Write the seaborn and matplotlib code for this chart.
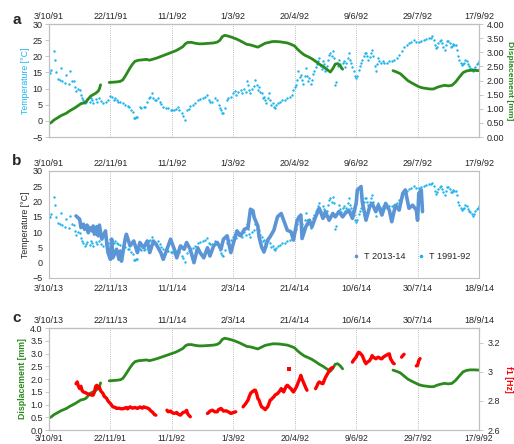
import numpy as np
import pandas as pd
import matplotlib
matplotlib.use("Agg")
import matplotlib.pyplot as plt
import seaborn as sns
from matplotlib.lines import Line2D

sns.set_style("white")
plt.rcParams['font.family'] = ['Liberation Sans', 'DejaVu Sans']

# ---------------- axis ticks (days since 3 October) ----------------
tick_days = [0, 50, 100, 150, 200, 250, 300, 350]
labels_9192 = ["3/10/91", "22/11/91", "11/1/92", "1/3/92", "20/4/92", "9/6/92", "29/7/92", "17/9/92"]
labels_1314 = ["3/10/13", "22/11/13", "11/1/14", "2/3/14", "21/4/14", "10/6/14", "30/7/14", "18/9/14"]

# ---------------- displacement 1991-92 [mm] ----------------
disp_day = [0, 2, 4, 7, 10, 14, 17, 21, 24, 26, 28, 30, 32, 34, 36, 38, 40, 41, 42,
            49, 52, 55, 58, 60, 62, 64, 66, 68, 70, 73, 76, 79, 82, 85, 88, 91, 94, 97,
            100, 103, 106, 109, 111, 113, 116, 119, 122, 125, 128, 131, 134, 137, 139,
            141, 143, 146, 149, 152, 155, 158, 161, 164, 167, 170, 173, 176, 179, 182,
            185, 188, 191, 194, 197, 200, 202, 205, 208, 211, 214, 217, 220, 223, 226,
            229, 231, 233, 235, 237, 239,
            280, 283, 286, 289, 292, 295, 298, 301, 304, 307, 310, 313, 316, 319, 322,
            325, 328, 331, 334, 337, 340, 343, 346, 350]
disp_mm = [0.47, 0.52, 0.60, 0.68, 0.76, 0.84, 0.93, 1.03, 1.12, 1.18, 1.20, 1.24, 1.35,
           1.45, 1.50, 1.55, 1.62, 1.70, 1.85,
           1.93, 1.94, 1.95, 1.97, 2.02, 2.15, 2.30, 2.45, 2.58, 2.68, 2.72, 2.73, 2.75,
           2.72, 2.76, 2.80, 2.85, 2.90, 2.95, 3.00, 3.05, 3.12, 3.20, 3.30, 3.35, 3.35,
           3.32, 3.30, 3.30, 3.31, 3.32, 3.33, 3.36, 3.42, 3.55, 3.60, 3.57, 3.53, 3.48,
           3.42, 3.35, 3.28, 3.26, 3.22, 3.18, 3.25, 3.32, 3.35, 3.38, 3.38, 3.37, 3.35,
           3.33, 3.28, 3.22, 3.12, 3.00, 2.90, 2.84, 2.77, 2.68, 2.58, 2.50, 2.40, 2.30,
           2.42, 2.58, 2.60, 2.52, 2.40,
           2.35, 2.30, 2.24, 2.12, 2.00, 1.92, 1.85, 1.78, 1.74, 1.72, 1.70, 1.70, 1.76,
           1.80, 1.83, 1.81, 1.83, 1.95, 2.12, 2.28, 2.34, 2.36, 2.36, 2.35]

# ---------------- temperature 1991-92 [°C] ----------------
t91_day = [0, 1, 2, 4, 5, 6, 7, 9, 10, 11, 13, 14, 16, 17, 19, 20, 21, 22, 24, 25, 26, 27,
           28, 29, 30, 31, 33, 34, 35, 36, 38, 39, 41, 42, 44, 46, 48, 50, 51, 53, 54, 55,
           56, 58, 60, 62, 64, 65, 67, 68, 69, 70, 71, 72, 74, 75, 77, 78, 80, 81, 82, 84,
           85, 86, 87, 89, 90, 91, 93, 95, 97, 99, 100, 102, 103, 105, 106, 108, 109, 111,
           112, 114, 115, 117, 119, 121, 123, 125, 127, 129, 130, 131, 133, 135, 137, 138,
           139, 140, 141, 142, 143, 145, 146, 148, 150, 151, 152, 154, 156, 157, 159, 160,
           161, 162, 163, 164, 165, 167, 168, 169, 170, 171, 172, 173, 174, 175, 176, 177,
           178, 179, 180, 181, 182, 183, 184, 185, 186, 188, 190, 192, 194, 196, 198, 199,
           200, 201, 202, 203, 204, 205, 206, 207, 208, 209, 210, 211, 212, 213, 214, 215,
           216, 217, 218, 219, 220, 221, 222, 223, 224, 225, 226, 227, 228, 229, 230, 231,
           232, 233, 234, 235, 236, 237, 238, 239, 240, 241, 242, 243, 244, 245, 246, 247,
           248, 249, 250, 251, 252, 253, 254, 255, 256, 257, 258, 259, 260, 261, 262, 263,
           264, 265, 266, 267, 268, 269, 270, 272, 273, 275, 277, 279, 281, 283, 285, 287,
           289, 291, 293, 295, 297, 299, 301, 303, 305, 307, 309, 311, 312, 313, 314, 315,
           316, 317, 318, 319, 320, 321, 322, 323, 324, 325, 326, 327, 328, 329, 330, 331,
           332, 333, 334, 335, 336, 337, 338, 339, 340, 341, 342, 343, 344, 345, 346, 347,
           348, 349, 350]
t91_val = [15.4, 14.8, 15.9, 21.6, 19.0, 15.0, 13.0, 12.7, 16.4, 12.2, 11.7, 14.3, 11.5,
           15.4, 12.5, 12.2, 10.5, 9.1, 10.0, 9.6, 8.0, 7.0, 6.5, 5.5, 6.0, 6.7, 5.8, 7.0,
           6.5, 5.5, 6.8, 6.0, 7.0, 6.2, 5.5, 6.0, 6.5, 7.8, 7.5, 6.5, 7.0, 6.5, 6.0, 5.8,
           5.4, 5.0, 4.6, 4.4, 3.5, 2.8, 1.0, 0.8, 1.1, 1.2, 4.4, 4.0, 4.2, 4.4, 6.0, 7.0,
           7.5, 8.5, 7.2, 6.5, 6.5, 7.0, 6.0, 5.2, 4.4, 4.0, 3.9, 3.5, 3.4, 3.3, 3.8, 4.2,
           3.5, 2.3, 1.5, 0.2, 3.3, 3.8, 4.5, 4.9, 5.5, 6.5, 6.8, 7.0, 7.5, 8.0, 6.5, 6.0,
           6.0, 7.0, 6.5, 5.0, 4.0, 3.3, 2.5, 2.3, 4.0, 6.5, 7.0, 7.5, 8.5, 9.1, 8.0, 9.0,
           9.6, 8.5, 10.0, 9.0, 12.5, 11.0, 9.5, 8.5, 10.0, 10.7, 12.7, 11.0, 9.6, 10.6,
           9.0, 8.5, 7.0, 7.5, 6.4, 5.5, 7.0, 8.5, 6.5, 5.0, 5.4, 4.4, 4.0, 4.8, 5.4, 5.8,
           6.4, 6.5, 7.0, 7.5, 8.0, 9.5, 10.5, 11.1, 12.7, 15.3, 13.5, 14.2, 12.7, 11.5,
           14.0, 16.3, 14.0, 12.5, 13.2, 11.5, 12.7, 14.5, 15.5, 16.8, 17.5, 18.5, 19.4,
           17.0, 16.0, 18.4, 17.5, 15.3, 17.0, 19.0, 20.5, 21.0, 20.0, 21.5, 19.4, 11.1,
           12.0, 17.0, 18.9, 17.5, 16.5, 17.9, 18.5, 16.8, 18.0, 19.5, 21.0, 19.0, 18.0,
           16.8, 15.5, 14.0, 13.2, 14.0, 15.8, 17.0, 18.0, 18.9, 20.0, 21.0, 21.0, 20.0,
           19.0, 19.9, 21.0, 22.0, 20.0, 17.0, 15.3, 17.5, 19.4, 18.5, 18.0, 18.5, 17.9,
           18.0, 18.4, 18.5, 18.9, 19.5, 20.5, 21.5, 23.0, 23.5, 24.1, 24.5, 25.1, 24.5,
           24.3, 24.8, 25.1, 25.3, 25.7, 25.8, 26.2, 25.0, 23.5, 22.5, 23.0, 24.0, 24.6,
           25.0, 24.0, 23.0, 22.0, 23.5, 24.6, 24.8, 24.0, 23.0, 23.2, 23.8, 23.5, 23.6,
           22.0, 20.0, 18.9, 18.0, 17.3, 17.5, 18.0, 18.8, 18.4, 17.5, 17.0, 16.5, 16.0,
           15.3, 16.0, 16.8, 17.5, 18.0, 18.4]

# ---------------- temperature 2013-14 [°C] ----------------
t13_day = [22, 25, 26, 28, 29, 31, 32, 33, 35, 36, 37, 39, 40, 41, 43, 46, 47, 48, 50, 51,
           52, 55, 57, 58, 59, 62, 63, 66, 69, 72, 74, 77, 80, 82, 85, 88, 91, 93, 96, 99,
           102, 104, 107, 110, 112, 115, 118, 121, 123, 126, 129, 131, 134, 137, 140, 142,
           145, 148, 151, 153, 156, 159, 162, 164, 166, 167, 170, 171, 173, 175, 178, 180,
           183, 186, 189, 191, 194, 197, 199, 202, 205, 206, 209, 212, 214, 217, 220, 223,
           225, 228, 231, 233, 236, 239, 241, 244, 247, 250, 251, 254, 255, 258, 261, 263,
           266, 268, 271, 274, 277, 279, 282, 285, 288, 290, 293, 296, 299, 300, 301, 303,
           304]
t13_val = [15.3, 14.2, 11.5, 12.6, 10.9, 12.3, 9.8, 11.5, 10.4, 12.0, 9.3, 11.8, 8.8,
           12.3, 7.7, 10.4, 6.6, 3.3, 1.1, 7.7, 1.6, 4.4, 1.1, 3.8, 0.5, 7.7, 9.3, 5.5, 7.1,
           3.3, 6.6, 4.9, 7.1, 3.3, 7.1, 5.5, 3.3, 1.1, 4.4, 7.7, 4.4, 1.6, 5.5, 4.4, 6.6,
           4.4, 0.0, 4.9, 3.3, 1.6, 4.9, 2.2, 5.5, 6.6, 4.4, 7.7, 8.8, 3.3, 7.7, 10.4, 8.8,
           10.9, 11.5, 17.5, 17.0, 14.8, 12.0, 8.5, 5.2, 3.5, 7.4, 8.5, 10.6, 15.0, 16.1,
           13.9, 10.6, 10.1, 7.4, 13.9, 15.6, 7.9, 11.7, 13.9, 11.7, 15.0, 17.8, 14.5, 16.7,
           13.9, 16.1, 15.0, 16.7, 15.0, 16.1, 17.2, 14.5, 19.4, 23.8, 24.9, 19.9, 13.9,
           18.3, 19.4, 16.7, 18.8, 15.6, 19.4, 17.2, 13.4, 18.8, 17.2, 22.7, 23.8, 17.8,
           18.8, 17.2, 13.9, 22.7, 23.8, 16.7]

# ---------------- first natural frequency f1 [Hz] ----------------
f1_day = [22, 23, 24, 25, 26, 27, 28, 30, 31, 33, 35, 36, 37, 38, 39, 40, 41, 42, 43, 44,
          45, 46, 47, 48, 49, 50, 51, 52, 54, 55, 57, 59, 61, 63, 64, 66, 68, 70, 72, 74,
          76, 77,
          81, 82, 83, 84, 85, 86, 87,
          96, 97, 99, 100, 102, 104, 105, 107, 109, 111, 112, 113, 114, 115,
          129, 130, 131, 133, 135, 137, 138, 140, 141, 142, 144, 146, 148, 150, 152,
          158, 160, 162, 163, 164, 165, 166, 167, 168, 169, 170, 171, 172, 173, 175, 176,
          177, 178, 179, 180, 181, 182, 183, 184, 185, 186, 187, 188, 189, 190, 191, 192,
          193, 194, 195, 196, 197, 198, 199, 200, 201, 202, 203, 204, 205, 206, 207, 208,
          209, 210,
          217, 218, 219, 220, 221, 222, 223, 224, 225, 226, 227, 228, 229, 230, 231,
          247, 248, 249, 250, 251, 252, 253, 254, 255, 256, 257, 258, 259, 260, 261, 262,
          263, 264, 265, 266, 267, 268, 269, 270, 271, 272, 273, 274, 275, 276, 277, 278,
          279, 280, 281,
          287, 288, 289,
          299, 300, 301, 302]
f1_hz = [2.918, 2.930, 2.900, 2.884, 2.900, 2.870, 2.861, 2.855, 2.850, 2.845, 2.839,
         2.840, 2.860, 2.900, 2.907, 2.890, 2.895, 2.870, 2.860, 2.850, 2.830, 2.825,
         2.816, 2.800, 2.790, 2.782, 2.770, 2.759, 2.755, 2.748, 2.750, 2.745, 2.748,
         2.755, 2.745, 2.759, 2.750, 2.755, 2.748, 2.758, 2.750, 2.759,
         2.748, 2.740, 2.730, 2.725, 2.715, 2.705, 2.702,
         2.736, 2.725, 2.730, 2.720, 2.714, 2.720, 2.710, 2.702, 2.720, 2.725, 2.735,
         2.710, 2.700, 2.691,
         2.714, 2.720, 2.730, 2.736, 2.725, 2.725, 2.740, 2.748, 2.740, 2.730, 2.732,
         2.725, 2.714, 2.720, 2.725,
         2.759, 2.780, 2.805, 2.830, 2.850, 2.860, 2.865, 2.873, 2.873, 2.850, 2.816,
         2.805, 2.780, 2.760, 2.748, 2.740, 2.750, 2.759, 2.780, 2.805, 2.810, 2.820,
         2.827, 2.840, 2.845, 2.850, 2.860, 2.870, 2.884, 2.875, 2.861, 2.880, 2.900,
         2.907, 2.900, 2.890, 2.884, 2.870, 2.861, 2.875, 2.890, 2.907, 2.930, 2.950,
         2.975, 2.950, 2.930, 2.910, 2.890, 2.873,
         2.884, 2.900, 2.920, 2.930, 2.925, 2.920, 2.918, 2.940, 2.960, 2.975, 2.990,
         3.005, 3.020, 3.025, 3.030,
         3.066, 3.080, 3.090, 3.100, 3.120, 3.134, 3.130, 3.120, 3.111, 3.090, 3.070,
         3.055, 3.065, 3.070, 3.077, 3.090, 3.111, 3.100, 3.095, 3.089, 3.095, 3.100,
         3.095, 3.090, 3.089, 3.100, 3.105, 3.111, 3.115, 3.120, 3.123, 3.089, 3.075,
         3.060, 3.055,
         3.100, 3.111, 3.120,
         3.040, 3.043, 3.077, 3.090]

C_CYAN = "#1db4ef"
C_BLUE = "#5b95d5"
C_GREEN = "#2a8a1c"
C_RED = "#ff0000"
C_SPINE = "#bfbfbf"
C_TEXT = "#262626"


def segmented(days, values, gap=4):
    """Frame with a run id so that gaps in the record are not bridged."""
    d = np.asarray(days, dtype=float)
    seg = np.concatenate([[0], np.cumsum(np.diff(d) > gap)])
    return pd.DataFrame({"day": d, "val": values, "seg": seg})


disp_df = segmented(disp_day, disp_mm)
t91_df = pd.DataFrame({"day": t91_day, "val": t91_val})
t13_df = segmented(t13_day, t13_val)
f1_df = segmented(f1_day, f1_hz)


def style(ax, grid=True):
    for s in ax.spines.values():
        s.set_color(C_SPINE)
        s.set_linewidth(0.8)
    ax.set_xlim(0, 350)
    ax.set_xticks(tick_days)
    if grid:
        ax.grid(axis="x", linestyle=(0, (1, 1.6)), color="#a6a6a6", linewidth=0.6)
        ax.grid(axis="y", visible=False)
    ax.tick_params(length=3, width=0.6, color=C_SPINE, labelsize=6.5,
                   labelcolor=C_TEXT, pad=1.5)
    ax.set_xlabel("")


def top_labels(ax, labels):
    sec = ax.secondary_xaxis("top")
    sec.set_xticks(tick_days, labels=labels)
    sec.tick_params(length=0, labelsize=6.5, labelcolor=C_TEXT, pad=2.5)
    sec.spines["top"].set_color(C_SPINE)
    sec.spines["top"].set_linewidth(0.8)
    return sec


fig = plt.figure(figsize=(5.14, 4.44), dpi=100)
L, W = 0.0953, 0.8366
ax_a = fig.add_axes([L, 0.6914, W, 0.2545])
ax_b = fig.add_axes([L, 0.3739, W, 0.2410])
ax_c = fig.add_axes([L, 0.0315, W, 0.2297])

# ---- panel a: temperature and displacement, 1991-92 ----
sns.scatterplot(data=t91_df, x="day", y="val", ax=ax_a, color=C_CYAN, s=3,
                linewidth=0, legend=False)
style(ax_a)
ax_a.set_ylim(-5, 30)
ax_a.set_yticks(range(-5, 31, 5))
ax_a.tick_params(axis="x", labelbottom=False)
ax_a.set_ylabel("Temperature [°C]", color=C_CYAN, fontsize=6.3, labelpad=2)
top_labels(ax_a, labels_9192)

ax_a2 = ax_a.twinx()
sns.lineplot(data=disp_df, x="day", y="val", units="seg", estimator=None, ax=ax_a2,
             color=C_GREEN, lw=2.0, legend=False)
style(ax_a2, grid=False)
ax_a2.set_ylim(0, 4)
ax_a2.set_yticks(np.arange(0, 4.01, 0.5))
ax_a2.set_yticklabels([f"{v:.2f}" for v in np.arange(0, 4.01, 0.5)])
ax_a2.tick_params(axis="y", pad=2.5)
ax_a2.set_ylabel("Displacement [mm]", color=C_GREEN, fontsize=6.1, rotation=270,
                 labelpad=1, fontweight="bold", va="bottom")

# ---- panel b: temperature, 2013-14 against 1991-92 ----
sns.scatterplot(data=t91_df, x="day", y="val", ax=ax_b, color=C_CYAN, s=3,
                linewidth=0, legend=False)
sns.lineplot(data=t13_df, x="day", y="val", units="seg", estimator=None, ax=ax_b,
             color=C_BLUE, lw=2.6, legend=False)
style(ax_b)
ax_b.set_ylim(-5, 30)
ax_b.set_yticks(range(-5, 31, 5))
ax_b.set_xticklabels(labels_1314)
ax_b.set_ylabel("Temperature [°C]", color=C_TEXT, fontsize=6.3, labelpad=2)
top_labels(ax_b, labels_9192)
handles = [Line2D([], [], ls="none", marker="o", ms=1.6, color=C_BLUE),
           Line2D([], [], ls="none", marker="o", ms=1.6, color=C_CYAN)]
ax_b.legend(handles, ["T 2013-14", "T 1991-92"], ncol=2, frameon=False,
            loc="lower right", bbox_to_anchor=(1.0, 0.08), fontsize=6.6,
            handlelength=0.8, handletextpad=0.5, columnspacing=1.3,
            labelcolor=C_TEXT)

# ---- panel c: displacement and f1 ----
sns.lineplot(data=disp_df, x="day", y="val", units="seg", estimator=None, ax=ax_c,
             color=C_GREEN, lw=2.0, legend=False)
style(ax_c)
ax_c.set_ylim(0, 4)
ax_c.set_yticks(np.arange(0, 4.01, 0.5))
ax_c.set_yticklabels([f"{v:.1f}" for v in np.arange(0, 4.01, 0.5)])
ax_c.set_xticklabels(labels_9192)
ax_c.tick_params(axis="x", length=1.5, pad=1.5, labelsize=6.2)
ax_c.set_ylabel("Displacement [mm]", color=C_GREEN, fontsize=6.3, labelpad=2,
                fontweight="bold")
top_labels(ax_c, labels_1314)

ax_c2 = ax_c.twinx()
sns.lineplot(data=f1_df, x="day", y="val", units="seg", estimator=None, ax=ax_c2,
             color=C_RED, lw=2.4, legend=False)
sns.scatterplot(x=[195], y=[3.02], ax=ax_c2, color=C_RED, s=5, marker="s",
                linewidth=0, legend=False)
style(ax_c2, grid=False)
ax_c2.set_ylim(2.6, 3.3)
ax_c2.set_yticks([2.6, 2.8, 3.0, 3.2])
ax_c2.set_yticklabels(["2.6", "2.8", "3", "3.2"])
ax_c2.tick_params(axis="y", pad=3)
ax_c2.set_ylabel("f1 [Hz]", color=C_RED, fontsize=6.3, rotation=270, labelpad=3,
                 fontweight="bold", va="bottom")

# panel letters
for y, letter in [(0.955, "a"), (0.637, "b"), (0.284, "c")]:
    fig.text(0.033, y, letter, fontsize=11, fontweight="bold", color=C_TEXT,
             ha="center", va="center")

fig.savefig("out.png", dpi=100)
